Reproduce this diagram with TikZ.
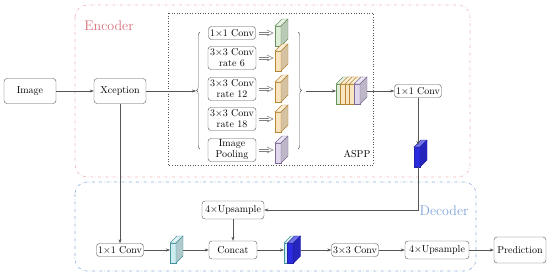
\documentclass[tikz,border=0pt]{standalone}
\usepackage{amsmath}
\usepackage{xcolor}
\usepackage{tikz}
\usetikzlibrary{arrows.meta,positioning,calc,decorations.pathreplacing}
\definecolor{encred}{HTML}{D9707A}
\definecolor{encline}{HTML}{F2B8BC}
\definecolor{decblue}{HTML}{7FA3D9}
\definecolor{decline}{HTML}{8FB0DE}
\definecolor{boxgray}{HTML}{555555}
\definecolor{mapgreen}{HTML}{8CC27A}
\definecolor{maporange}{HTML}{F0B348}
\definecolor{mappurple}{HTML}{A68CC8}
\definecolor{mapblue}{HTML}{2B2BE0}
\definecolor{mapcyan}{HTML}{5CC3D0}

% feature map slab: name, x, y, colour, tint
\newcommand{\fmap}[5]{%
  \begin{scope}[shift={(#2,#3)}]
    \filldraw[draw=#4!75!black, fill=#4!#5!white] (-3,-10) rectangle (3,10);
    \filldraw[draw=#4!75!black, fill=#4!#5!white!65!white] (-3,-10) -- (4,-17) -- (10,-17) -- (3,-10) -- cycle;
    \filldraw[draw=#4!75!black, fill=#4!#5!white!85!black] (3,-10) -- (10,-17) -- (10,3) -- (3,10) -- cycle;
    \coordinate (#1-w) at (-3,-3);
    \coordinate (#1-e) at (10,-3);
    \coordinate (#1-n) at (1,-12);
    \coordinate (#1-s) at (1,10);
  \end{scope}}

\tikzset{
  blk/.style={draw=boxgray, rounded corners=3pt, fill=white, inner sep=2pt, align=center, font=\fontsize{10}{11}\selectfont},
  bigblk/.style={blk, minimum width=52pt, minimum height=25pt},
  midblk/.style={blk, minimum height=18pt},
  smallblk/.style={blk, minimum width=47pt, minimum height=13pt, inner sep=1.5pt},
  asppblk/.style={blk, minimum width=48pt, minimum height=23pt, inner sep=1.5pt},
  arr/.style={draw=boxgray, -{Stealth[length=4pt,width=3pt]}},
  dbl/.style={draw=gray, line width=0.5pt},
  brc/.style={draw=boxgray, decorate, decoration={brace, amplitude=3.5pt}},
}

\begin{document}
\begin{tikzpicture}[x=1pt, y=-1pt]
\useasboundingbox (0,0) rectangle (550,276);

% encoder / decoder frames
\draw[encline, dash dot, rounded corners=12pt, line width=0.6pt] (75,5) rectangle (470,177);
\draw[decline, dash dot, rounded corners=12pt, line width=0.6pt] (75,182) rectangle (476,271);
\draw[boxgray, dotted, line width=0.6pt] (168,13) rectangle (373,165);
\node[text=encred, font=\fontsize{14}{16}\selectfont] (enclabel) at (109,26) {Encoder};
\node[text=decblue, font=\fontsize{14}{16}\selectfont] (declabel) at (444,211) {Decoder};
\node[font=\fontsize{10}{11}\selectfont] (aspplabel) at (357,154) {ASPP};

% encoder
\node[bigblk] (img) at (30,91) {Image};
\node[bigblk] (xcep) at (120,91) {Xception};

\node[smallblk] (c1) at (232,33) {1$\times$1 Conv};
\node[asppblk] (r6) at (232,58) {3$\times$3 Conv\\rate 6};
\node[asppblk] (r12) at (232,89) {3$\times$3 Conv\\rate 12};
\node[asppblk] (r18) at (232,119) {3$\times$3 Conv\\rate 18};
\node[asppblk] (pool) at (232,150) {Image\\Pooling};

\fmap{g1}{278}{36}{mapgreen}{30}
\fmap{g2}{278}{61}{maporange}{35}
\fmap{g3}{278}{92}{maporange}{35}
\fmap{g4}{278}{122}{maporange}{35}
\fmap{g5}{278}{153}{mappurple}{35}

\draw[brc] (200,149) -- (200,32);
\draw[brc] (298,32) -- (298,149);
\coordinate (lb) at (196,91);
\coordinate (rb) at (306,91);

\fmap{st1}{339}{94}{mapgreen}{30}
\fmap{st2}{343.5}{94}{maporange}{35}
\fmap{st3}{348}{94}{maporange}{35}
\fmap{st4}{352.5}{94}{maporange}{35}
\fmap{st5}{357}{94}{mappurple}{35}

\node[smallblk] (encconv) at (418,91) {1$\times$1 Conv};
\fmap{blue}{417}{157}{mapblue}{100}

% decoder
\node[midblk, minimum width=62pt] (up1) at (233,210) {4$\times$Upsample};
\node[midblk, minimum width=48pt] (concat) at (233,250) {Concat};
\node[smallblk] (conv1) at (120,250) {1$\times$1 Conv};
\fmap{cy}{173}{253}{mapcyan}{30}
\fmap{cc1}{287}{253}{mapcyan}{30}
\fmap{cc2}{290.5}{253}{mapblue}{100}
\node[smallblk] (conv3) at (355,250) {3$\times$3 Conv};
\node[midblk, minimum width=64pt] (up2) at (437,250) {4$\times$Upsample};
\node[bigblk, minimum height=26pt] (pred) at (520,250) {Prediction};

% connectors
\draw[arr] (img) -- (xcep);
\draw[arr] (xcep.east) -- (lb);
\foreach \b/\m in {c1/g1, r6/g2, r12/g3, r18/g4, pool/g5} {
  \draw[dbl] ([xshift=3pt,yshift=1.1pt]\b.east) -- ([xshift=-6pt,yshift=1.1pt]\m-w)
             ([xshift=3pt,yshift=-1.1pt]\b.east) -- ([xshift=-6pt,yshift=-1.1pt]\m-w);
  \draw[dbl, line join=miter] ([xshift=-8pt,yshift=3pt]\m-w) -- ([xshift=-2pt]\m-w) -- ([xshift=-8pt,yshift=-3pt]\m-w);
}
\draw[arr] (rb) -- (st1-w);
\draw[arr] (st5-e) -- (encconv.west);
\draw[arr] (encconv.south) -- (blue-n);
\draw[arr] (blue-s) |- (up1.east);
\draw[arr] (up1) -- (concat);
\draw[arr] (xcep.south) -- (conv1.north);
\draw[arr] (conv1.east) -- (cy-w);
\draw[arr] (cy-e) -- (concat.west);
\draw[arr] (concat.east) -- (cc1-w);
\draw[arr] (cc2-e) -- (conv3.west);
\draw[arr] (conv3) -- (up2);
\draw[arr] (up2) -- (pred);
\end{tikzpicture}
\end{document}
